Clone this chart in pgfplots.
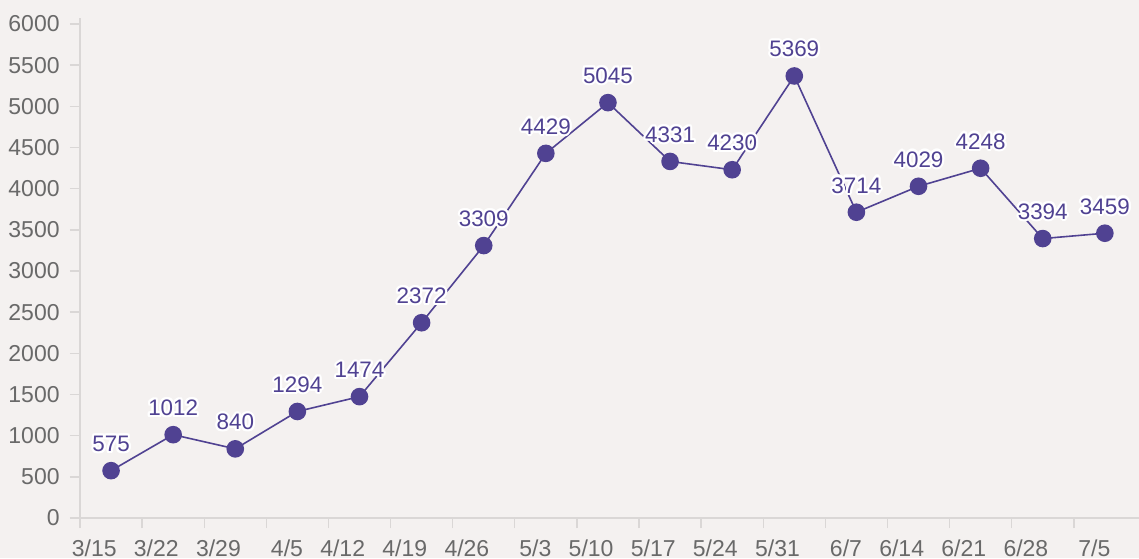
\documentclass[border=0pt]{standalone}
\usepackage{pgfplots}
\pgfplotsset{compat=1.18}
\usepackage{fontspec}
\setmainfont{Liberation Sans}
\usepackage[copies]{contour}
\contourlength{1.1pt}
\contournumber{16}
\definecolor{bg}{RGB}{244,241,240}
\definecolor{axgrey}{RGB}{218,215,214}
\definecolor{txtgrey}{RGB}{105,105,105}
\definecolor{purp}{RGB}{80,66,146}
\begin{document}
\begin{tikzpicture}
\fill[bg] (-40pt,-20pt) rectangle (529.5pt,259pt);
\useasboundingbox (-40pt,-20pt) rectangle (529.5pt,259pt);
\begin{axis}[
  at={(0,0)}, anchor=south west,
  scale only axis, width=529.5pt, height=250pt,
  xmin=-0.5, xmax=16.55, ymin=0, ymax=6073,
  axis x line*=bottom, axis y line*=left,
  axis line style={-, axgrey, line width=0.7pt},
  tick style={axgrey, line width=0.7pt},
  tick align=outside, major tick length=5pt,
  xtick={-0.5,0.5,...,15.5},
  xticklabels={3/15,3/22,3/29,4/5,4/12,4/19,4/26,5/3,5/10,5/17,5/24,5/31,6/7,6/14,6/21,6/28,7/5},
  xticklabel style={anchor=north east, xshift=18.5pt, yshift=-5.5pt, font=\fontsize{11.5}{13}\selectfont, text=txtgrey, inner sep=0pt},
  ytick={0,500,...,6000},
  yticklabel style={anchor=east, xshift=-5pt, font=\fontsize{11.5}{13}\selectfont, text=txtgrey, inner sep=0pt},
  /pgf/number format/assume math mode=true,
  /pgf/number format/1000 sep={},
  scaled y ticks=false,
  clip=false,
  nodes near coords={\contour{white}{\pgfmathprintnumber[1000 sep={}]{\pgfplotspointmeta}}},
  every node near coord/.append style={anchor=south, yshift=8pt, inner sep=0pt, text=purp, font=\fontsize{11.2}{13}\selectfont},
]
\addplot[purp, line width=0.8pt, mark=*, mark size=4pt, mark options={fill=purp, draw=purp}] coordinates {
(0,575) (1,1012) (2,840) (3,1294) (4,1474) (5,2372) (6,3309) (7,4429) (8,5045) (9,4331) (10,4230) (11,5369) (12,3714) (13,4029) (14,4248) (15,3394) (16,3459)
};
\end{axis}
\end{tikzpicture}
\end{document}
